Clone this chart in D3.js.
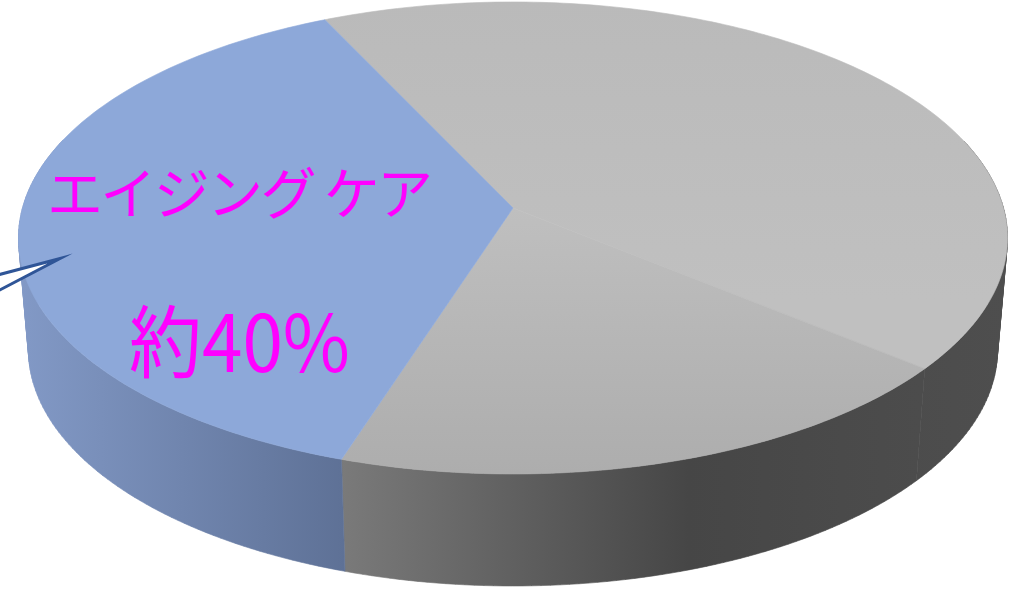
<!DOCTYPE html>
<html lang="ja">
<head>
<meta charset="utf-8">
<script src="https://cdn.jsdelivr.net/npm/d3@7"></script>
<style>
  html, body { margin: 0; background: #fff; overflow: hidden; }
  svg { display: block; }
  text { font-family: "Noto Sans CJK JP", sans-serif; fill: #ff00ff; }
</style>
</head>
<body>
<svg id="chart" width="1023" height="591"></svg>
<script>
// Slices, clockwise from the blue/grey edge at the back
var categories = ["その他A", "その他B", "エイジング ケア"];
var values = [43, 19, 38];
var labelName = "エイジング ケア";
var labelValue = "約40%";

var svg = d3.select("#chart");
var defs = svg.append("defs");

function gradient(id, x1, y1, x2, y2, stops) {
    var g = defs.append("linearGradient")
        .attr("id", id)
        .attr("gradientUnits", "userSpaceOnUse")
        .attr("x1", x1).attr("y1", y1)
        .attr("x2", x2).attr("y2", y2);
    stops.forEach(function (s) {
        g.append("stop").attr("offset", s[0]).attr("stop-color", s[1]);
    });
}

gradient("top0", 0, 0, 0, 300, [[0, "#bababa"], [1, "#c0c0c0"]]);
gradient("top1", 0, 208, 0, 474, [[0, "#bfbfbf"], [1, "#adadad"]]);
gradient("top2", 0, 0, 0, 591, [[0, "#8da8d9"], [1, "#8da8d9"]]);
gradient("side0", 900, 0, 1007, 0, [[0, "#4c4c4c"], [1, "#4e4e4e"]]);
gradient("side1", 341, 0, 920, 0, [[0, "#7a7a7a"], [0.6, "#464646"], [1, "#4c4c4c"]]);
gradient("side2", 20, 0, 345, 0, [[0, "#8299c6"], [1, "#5e7196"]]);

// Tilted disc: a circle in perspective, so the centre sits above the middle of the ellipse
var k = -0.127, b = 232.2, cx = 513;
var planes = [
    { y0: 208, a: 490.5 },  // top face
    { y0: 320, a: 480.6 }   // bottom face
];

function project(angle, plane) {
    var u = Math.sin(angle), v = -Math.cos(angle);
    var w = 1 + k * v;
    return [cx + plane.a * u / w, plane.y0 + b * v / w];
}

var pie = d3.pie()
    .sort(null)
    .startAngle(-25.3 * Math.PI / 180)
    .endAngle((360 - 25.3) * Math.PI / 180);
var arcs = pie(values);

var line = d3.line();

function samples(d) {
    var n = Math.ceil((d.endAngle - d.startAngle) * 180 / Math.PI);
    return d3.range(n + 1).map(function (i) {
        return d.startAngle + (d.endAngle - d.startAngle) * i / n;
    });
}

// One quad per degree, all wound the same way so the fold at the silhouette fills solid.
// Quads on the far side are hidden by the top face, and would only fringe its edge.
function sidePath(d) {
    var a = samples(d), out = "";
    for (var i = 0; i < a.length - 1; i++) {
        if (-Math.cos(a[i]) < -0.3) continue;
        var q = [project(a[i], planes[0]), project(a[i + 1], planes[0]),
                 project(a[i + 1], planes[1]), project(a[i], planes[1])];
        if (d3.polygonArea(q) < 0) q.reverse();
        out += line(q) + "Z";
    }
    return out;
}

function topPath(d) {
    var pts = samples(d).map(function (t) { return project(t, planes[0]); });
    pts.push([cx, planes[0].y0]);
    return line(pts) + "Z";
}

// Thin stroke in the fill colour closes the hairline gaps between neighbouring slices
svg.append("g")
    .selectAll("path")
    .data(arcs)
    .enter().append("path")
    .attr("d", sidePath)
    .attr("fill", function (d, i) { return "url(#side" + i + ")"; })
    .attr("stroke", function (d, i) { return "url(#side" + i + ")"; })
    .attr("stroke-width", 0.6);

svg.append("g")
    .selectAll("path")
    .data(arcs)
    .enter().append("path")
    .attr("d", topPath)
    .attr("fill", function (d, i) { return "url(#top" + i + ")"; })
    .attr("stroke", function (d, i) { return "url(#top" + i + ")"; })
    .attr("stroke-width", 0.6);

// Callout wedge coming in from the left edge
svg.append("path")
    .attr("d", "M-6,276L60,258.5L-6,293")
    .attr("fill", "#fff")
    .attr("stroke", "#2f5597")
    .attr("stroke-width", 3)
    .attr("stroke-miterlimit", 20);

svg.append("text")
    .attr("x", 47)
    .attr("y", 214)
    .attr("font-size", 56)
    .attr("textLength", 386)
    .attr("xml:space", "preserve")
    .text(labelName);

svg.append("text")
    .attr("x", 129)
    .attr("y", 372)
    .attr("font-size", 79)
    .attr("textLength", 221)
    .attr("lengthAdjust", "spacingAndGlyphs")
    .text(labelValue);
</script>
</body>
</html>
